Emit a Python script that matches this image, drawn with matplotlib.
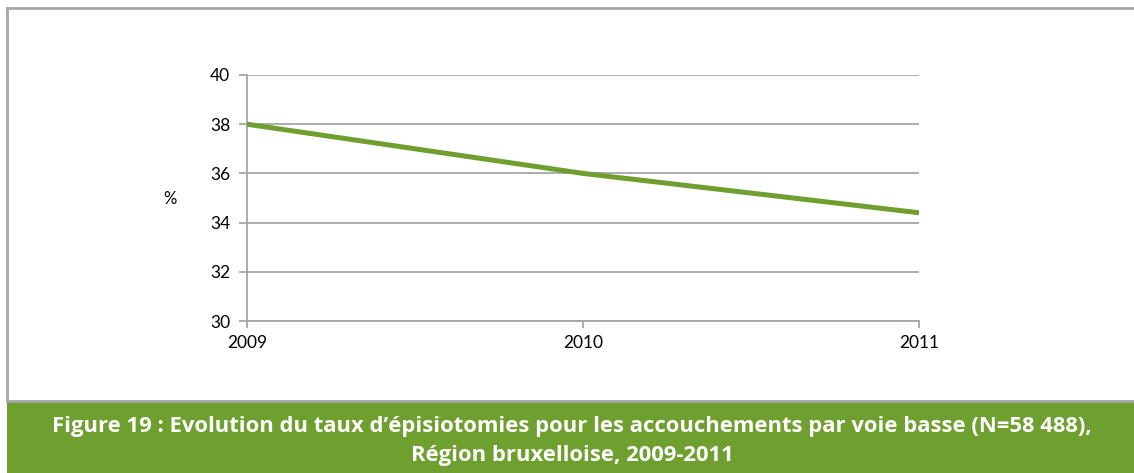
import matplotlib
matplotlib.use("Agg")
from matplotlib import pyplot as plt
from matplotlib.patches import Rectangle
from matplotlib.lines import Line2D

# Data
years = [2009, 2010, 2011]
rates = [38.0, 36.0, 34.4]
y_ticks = [30, 32, 34, 36, 38, 40]
caption = ("Figure 19 : Evolution du taux d\u2019\u00e9pisiotomies pour les accouchements "
           "par voie basse (N=58 488),\nR\u00e9gion bruxelloise, 2009-2011")

GREEN = "#6E9F2F"
GRID = "#A6A6A6"
W, H = 1134, 473

plt.rcParams["font.family"] = ["Lato", "DejaVu Sans"]

fig = plt.figure(figsize=(W / 100, H / 100), dpi=100)

# outer frame and caption banner
fig.add_artist(Line2D([7 / W, 7 / W], [1 - 8 / H, 1 - 401 / H], color=GRID, lw=2))
fig.add_artist(Line2D([7 / W, 1], [1 - 8 / H, 1 - 8 / H], color=GRID, lw=2))
fig.add_artist(Rectangle((7 / W, 0), 1, 1 - 402 / H, color=GREEN, lw=0))
fig.add_artist(Line2D([7 / W, 1], [1 - 401 / H, 1 - 401 / H], color=GRID, lw=2))
fig.text(572 / W, 1 - 441 / H, caption, ha="center", va="center", color="white",
         fontsize=15.8, fontweight="bold", linespacing=1.5,
         family=["Open Sans", "DejaVu Sans"])

ax = fig.add_axes([247 / W, 1 - 321 / H, (919 - 247) / W, (321 - 75) / H])
ax.plot(years, rates, color=GREEN, lw=3.6, solid_capstyle="butt", zorder=3)

ax.set_xlim(2009, 2011)
ax.set_ylim(30, 40)
ax.set_xticks(years)
ax.set_yticks(y_ticks)
ax.grid(axis="y", color=GRID, lw=1.3)
ax.set_axisbelow(True)
for s in ["top", "right"]:
    ax.spines[s].set_visible(False)
for s in ["left", "bottom"]:
    ax.spines[s].set_color(GRID)
    ax.spines[s].set_linewidth(1.3)
ax.tick_params(axis="both", colors=GRID, width=1.3, labelcolor="black", labelsize=12.5)
ax.tick_params(axis="y", length=6, pad=6)
ax.tick_params(axis="x", length=5, pad=5)
fig.text(170 / W, 1 - 199 / H, "%", ha="center", va="center", fontsize=12)

fig.savefig("out.png", dpi=100)
